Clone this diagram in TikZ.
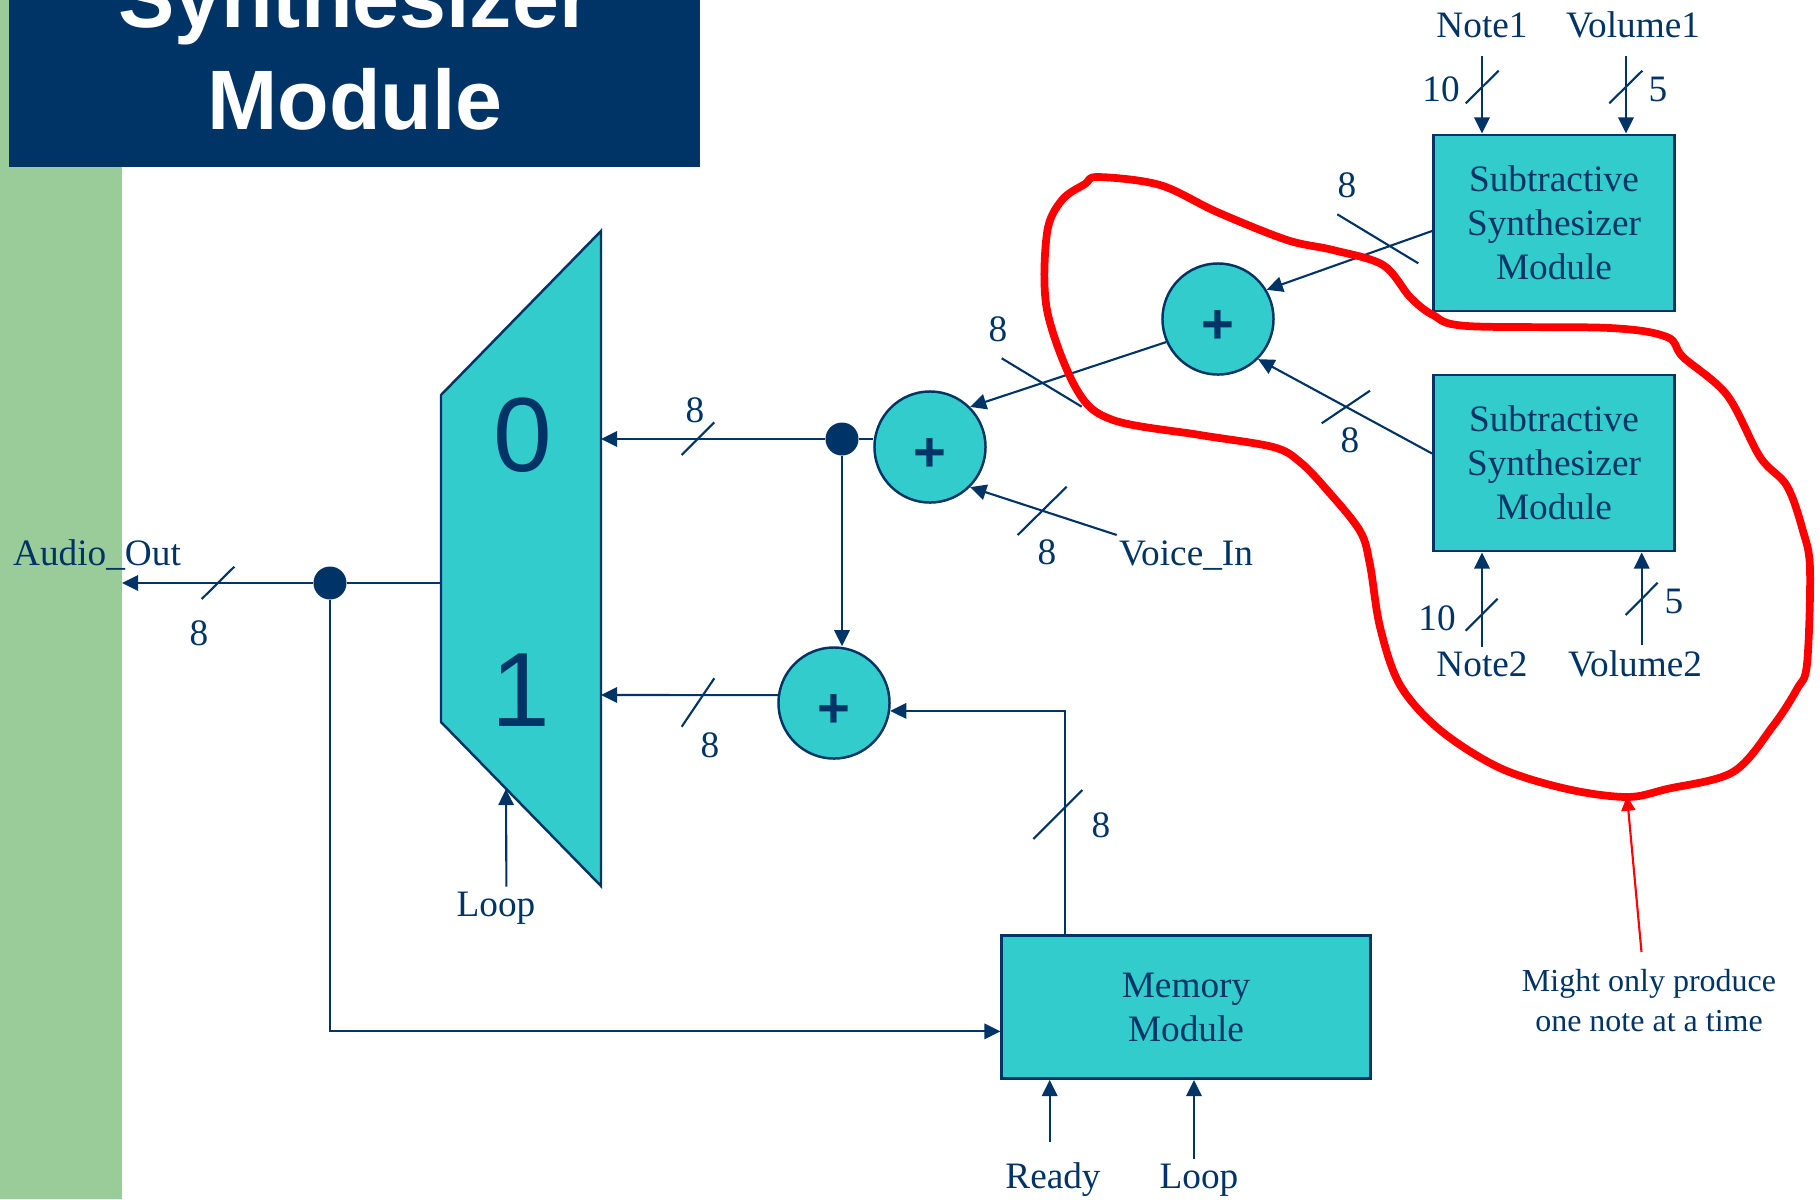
\documentclass[tikz,border=0pt]{standalone}
\usepackage{fontspec}
\setmainfont{Liberation Serif}
\setsansfont{Liberation Sans}
\usepackage{tikz}
\usetikzlibrary{arrows.meta,positioning,calc}

\definecolor{navy}{RGB}{0,51,102}
\definecolor{synthteal}{RGB}{51,204,204}
\definecolor{sidegreen}{RGB}{153,204,153}

\begin{document}
\begin{tikzpicture}[x=0.01cm, y=-0.01cm,
    module/.style={rectangle, draw=navy, line width=0.8pt, fill=synthteal, text=navy, align=center, inner sep=0pt, font=\fontsize{10.6}{12.5}\selectfont},
    adder/.style={circle, draw=navy, line width=0.7pt, fill=synthteal, text=navy, minimum size=1.11cm, inner sep=0pt, text height=14.2pt, text depth=0pt, font=\sffamily\bfseries\fontsize{16}{16}\selectfont},
    junction/.style={circle, fill=navy, minimum size=0.33cm, inner sep=0pt},
    wire/.style={draw=navy, line width=0.6pt},
    arrow/.style={wire, -{Triangle[length=4.6pt,width=4.4pt]}},
    busmark/.style={draw=navy, line width=0.6pt},
    sig/.style={text=navy, inner sep=2pt, anchor=base, font=\fontsize{10.6}{12.5}\selectfont},
    digit/.style={text=navy, font=\sffamily\fontsize{30}{30}\selectfont}
]
    \useasboundingbox (0,0) rectangle (1820,1199);

    % Background and title
    \fill[sidegreen] (0,0) rectangle (122,1199);
    \fill[navy] (9,0) rectangle (700,167);
    \begin{scope}
        \clip (9,0) rectangle (700,167);
        \node[anchor=south, inner sep=0pt, text=white, align=center, font=\sffamily\bfseries\fontsize{24}{29}\selectfont] (title) at (355,131) {Synthesizer\\Module};
    \end{scope}

    % Multiplexer
    \coordinate (muxlt) at (441,395);
    \coordinate (muxlb) at (441,722);
    \coordinate (muxrt) at (601,231);
    \coordinate (muxrb) at (601,886);
    \filldraw[fill=synthteal, draw=navy, line width=0.7pt] (muxlt) -- (muxrt) -- (muxrb) -- (muxlb) -- cycle;
    \node[digit] (sel0) at (523,435) {0};
    \node[digit] (sel1) at (521,690) {1};
    \coordinate (muxout) at (441,583);
    \coordinate (muxin0) at (601,439);
    \coordinate (muxin1) at (601,695);
    \coordinate (muxsel) at (506,789);
    \coordinate (audio) at (122,583);

    % Blocks
    \node[junction] (dot1) at (330,583) {};
    \node[junction] (dot2) at (842,439) {};
    \node[adder] (add1) at (930,447) {+};
    \node[adder] (add2) at (834,703) {+};
    \node[adder] (add3) at (1218,319) {+};
    \node[module, minimum width=2.41cm, minimum height=1.76cm] (synth1) at (1554,223) {Subtractive\\Synthesizer\\Module};
    \node[module, minimum width=2.41cm, minimum height=1.76cm] (synth2) at (1554,463) {Subtractive\\Synthesizer\\Module};
    \node[module, minimum width=3.68cm, minimum height=1.43cm] (mem) at (1186,1007) {Memory\\Module};

    % Signal names
    \node[sig] (note1) at (1482,37) {Note1};
    \node[sig] (vol1) at (1633,37) {Volume1};
    \node[sig] (note2) at (1482,676) {Note2};
    \node[sig] (vol2) at (1635,676) {Volume2};
    \node[sig] (voicein) at (1186,565) {Voice\_In};
    \node[sig] (audioout) at (97,565) {Audio\_Out};
    \node[sig] (loopa) at (496,916) {Loop};
    \node[sig] (ready) at (1053,1188) {Ready};
    \node[sig] (loopb) at (1199,1188) {Loop};

    % Bus widths
    \node[sig] (wnote1) at (1441,101) {10};
    \node[sig] (wvol1) at (1658,101) {5};
    \node[sig] (wsynth1) at (1347,197.5) {8};
    \node[sig] (wadd3) at (998,341) {8};
    \node[sig] (win0) at (695,422.5) {8};
    \node[sig] (wsynth2) at (1350,452.5) {8};
    \node[sig] (wvoice) at (1047,564) {8};
    \node[sig] (waudio) at (199,645) {8};
    \node[sig] (wnote2) at (1437,630.5) {10};
    \node[sig] (wvol2) at (1674,613) {5};
    \node[sig] (win1) at (710,757.5) {8};
    \node[sig] (wmem) at (1101,837.5) {8};

    % Connections
    \draw[wire] (muxout) -- (dot1);
    \draw[arrow] (dot1) -- (audio);
    \draw[arrow] (dot1) |- ([yshift=-0.243cm]mem.west);
    \draw[wire] (dot2) -- (dot2 -| add1.west);
    \draw[arrow] (dot2) -- (muxin0);
    \draw[arrow] (dot2) -- (dot2 |- add2.north);
    \draw[arrow] (add2.172) -- (muxin1);
    \draw[arrow] ([xshift=0.643cm]mem.north west) |- (add2.-8.5);
    \draw[arrow] (add3.204) -- (add1.45);
    \draw[arrow] ([xshift=0.054cm, yshift=-0.024cm]voicein.north west) -- (add1.-45);
    \draw[arrow] ([yshift=-0.08cm]synth1.west) -- (add3.31);
    \draw[arrow] ([yshift=0.095cm]synth2.west) -- (add3.-45);
    \draw[arrow] ([yshift=-0.106cm]note1.south) -- (note1.south |- synth1.north);
    \draw[arrow] ([xshift=-0.07cm, yshift=-0.106cm]vol1.south) -- ([xshift=-0.07cm]vol1.south |- synth1.north);
    \draw[arrow] ([yshift=-0.03cm]note2.north) -- (note2.north |- synth2.south);
    \draw[arrow] ([xshift=0.067cm, yshift=-0.03cm]vol2.north) -- ([xshift=0.067cm]vol2.north |- synth2.south);
    \draw[arrow] ([xshift=0.104cm, yshift=-0.027cm]loopa.north) -- (muxsel);
    \draw[arrow] ([xshift=-0.033cm, yshift=0.126cm]ready.north) -- ([xshift=-0.033cm]ready.north |- mem.south);
    \draw[arrow] ([xshift=-0.05cm, yshift=-0.027cm]loopb.north) -- ([xshift=-0.05cm]loopb.north |- mem.south);

    % Bus slashes
    \draw[busmark] (201.7,599) -- (234.3,566.7);
    \draw[busmark] (681.7,455) -- (714.3,422.3);
    \draw[busmark] (681.7,726.7) -- (714.3,678.3);
    \draw[busmark] (1033.3,839) -- (1082.3,790);
    \draw[busmark] (1017.7,535) -- (1066.7,486.7);
    \draw[busmark] (1001.7,358.3) -- (1081.7,406.7);
    \draw[busmark] (1337.3,214.3) -- (1418.3,263.3);
    \draw[busmark] (1321.7,423.3) -- (1370,390.7);
    \draw[busmark] (1465.7,103.3) -- (1498.7,70.7);
    \draw[busmark] (1609.3,103.3) -- (1642.3,70.7);
    \draw[busmark] (1465.7,630.7) -- (1497.7,598.7);
    \draw[busmark] (1625.7,615) -- (1657.7,582.7);

    % Hand drawn remark
    \draw[red, line width=2.2pt, line join=round] plot[smooth cycle, tension=0.55] coordinates {
        (1098,177) (1160,185) (1217,212) (1287,240) (1333,250) (1383,265)
        (1410,297) (1433,315) (1467,326) (1610,328) (1667,337) (1683,357)
        (1727,395) (1760,457) (1787,486) (1803,531) (1810,569) (1807,664)
        (1797,689) (1773,726) (1733,772) (1667,789) (1627,797) (1567,789)
        (1500,768) (1440,730) (1400,685) (1380,627) (1370,565) (1360,531)
        (1327,490) (1300,462) (1273,447) (1200,435) (1113,420) (1077,390)
        (1047,310) (1047,233) (1062,200) (1085,184)};
    \coordinate (blobtip) at (1627,796);
    \node[text=navy, align=center, anchor=north, inner sep=0.17cm, font=\fontsize{9.1}{11.2}\selectfont] (remark) at (1649,952) {Might only produce\\one note at a time};
    \draw[red, line width=0.6pt, -{Triangle[length=4.2pt,width=4pt]}] ([xshift=-0.075cm]remark.north) -- (blobtip);
\end{tikzpicture}
\end{document}
